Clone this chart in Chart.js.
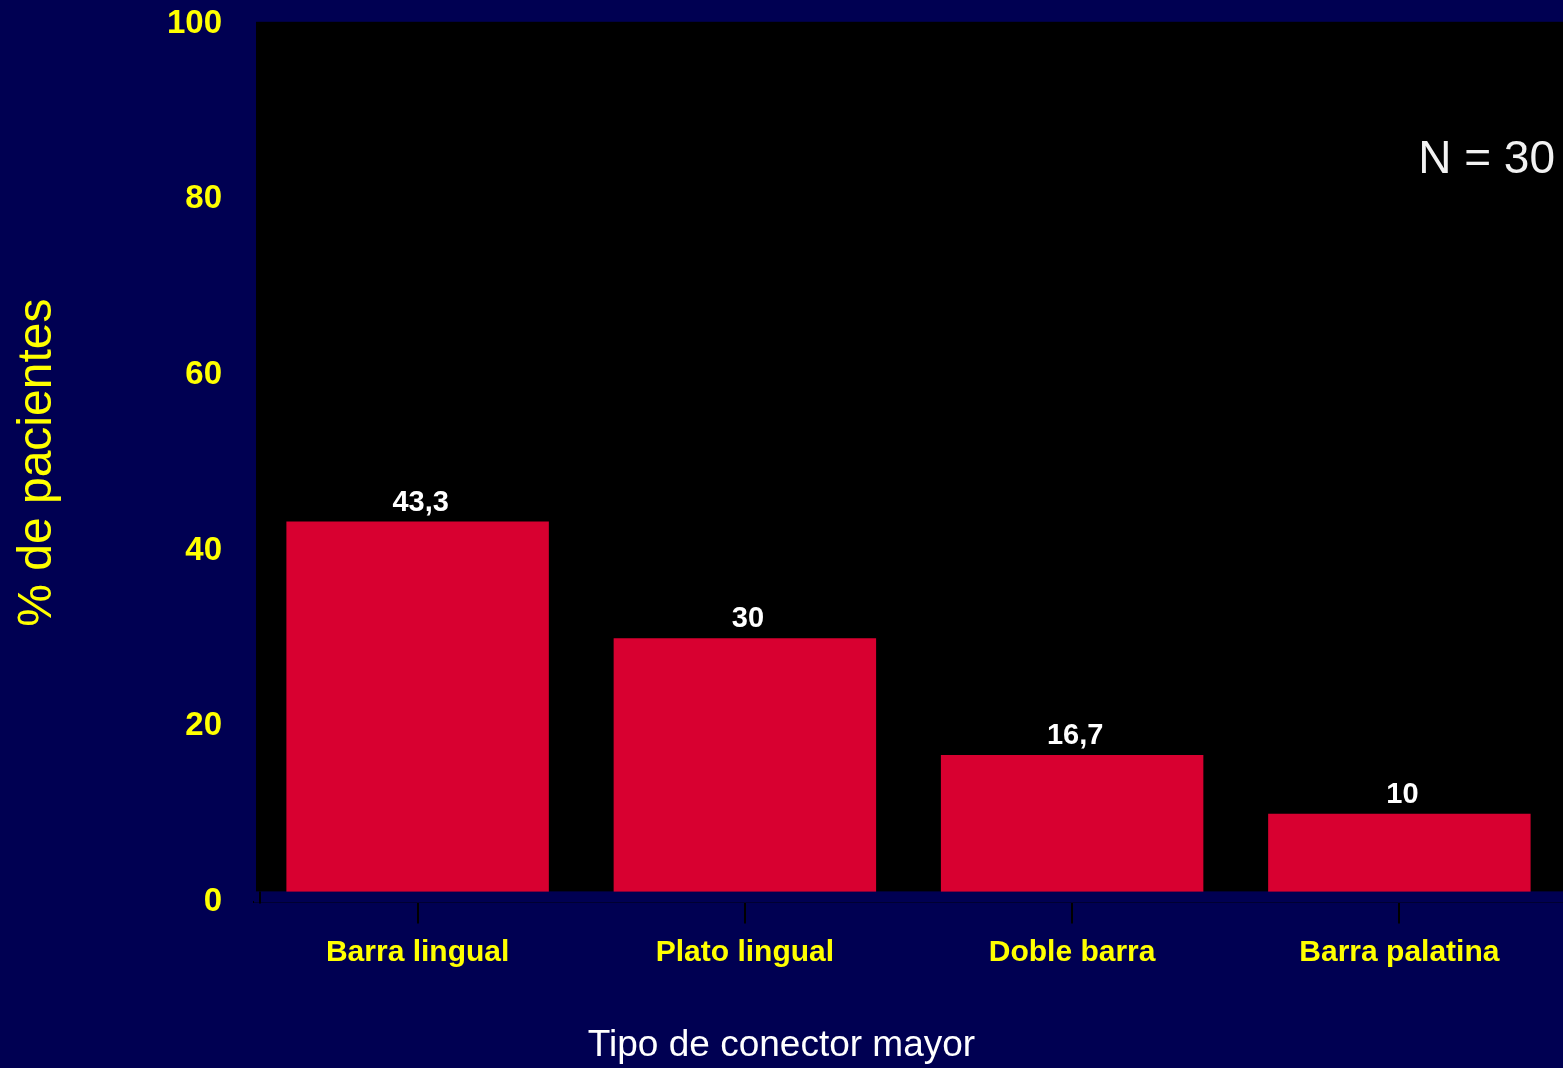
<!DOCTYPE html>
<html>
<head>
<meta charset="utf-8">
<script src="https://cdn.jsdelivr.net/npm/chart.js@4.4.1/dist/chart.umd.min.js"></script>
<style>
  html, body { margin: 0; padding: 0; background: #000052; }
  #wrap { width: 1563px; height: 1068px; }
</style>
</head>
<body>
<div id="wrap"><canvas id="chart"></canvas></div>
<script>
const navy = '#000052';
const red = '#D80030';
const yellow = '#FFFF00';

const categories = ['Barra lingual', 'Plato lingual', 'Doble barra', 'Barra palatina'];
const percentages = [43.3, 30, 16.7, 10];
const yTickValues = [0, 20, 40, 60, 80, 100];
const sampleNote = 'N = 30';

// fondo azul, área de trazado negra y franja azul bajo las barras
const frame = {
  id: 'frame',
  beforeDraw(chart) {
    const { ctx, chartArea: a } = chart;
    ctx.save();
    ctx.fillStyle = navy;
    ctx.fillRect(0, 0, chart.width, chart.height);
    ctx.fillStyle = '#000000';
    ctx.fillRect(a.left + 2, a.top - 2, a.right - a.left, a.bottom - 10 - (a.top - 2));
    ctx.restore();
  },
  afterDatasetsDraw(chart) {
    const { ctx, chartArea: a } = chart;
    ctx.save();
    ctx.fillStyle = navy;
    ctx.fillRect(a.left, a.bottom - 10, a.right - a.left, 11);
    ctx.strokeStyle = '#000000';
    ctx.lineWidth = 2;
    ctx.beginPath();
    ctx.moveTo(a.left + 6, a.bottom - 10);
    ctx.lineTo(a.left + 6, a.bottom + 2);
    ctx.stroke();
    // valores sobre las barras
    ctx.fillStyle = '#FFFFFF';
    ctx.font = 'bold 29px "Liberation Sans", Arial, sans-serif';
    ctx.textAlign = 'center';
    ctx.textBaseline = 'alphabetic';
    chart.getDatasetMeta(0).data.forEach((bar, i) => {
      ctx.fillText(String(percentages[i]).replace('.', ','), bar.x + 3, bar.y - 11);
    });
    // nota N
    ctx.fillStyle = '#F2F2F2';
    ctx.font = '46px "Liberation Sans", Arial, sans-serif';
    ctx.textAlign = 'right';
    ctx.fillText(sampleNote, a.right - 8, a.top + 149);
    ctx.restore();
  }
};

new Chart(document.getElementById('chart'), {
  type: 'bar',
  data: {
    labels: categories,
    datasets: [{
      data: percentages,
      backgroundColor: red,
      borderWidth: 0,
      barPercentage: 0.802,
      categoryPercentage: 1
    }]
  },
  options: {
    responsive: true,
    maintainAspectRatio: false,
    animation: false,
    layout: { padding: { top: 0, right: 0, left: 0, bottom: 0 } },
    plugins: {
      legend: { display: false },
      tooltip: { enabled: false },
      title: {
        display: true,
        position: 'bottom',
        text: 'Tipo de conector mayor',
        color: '#FFFFFF',
        font: { family: '"Liberation Sans", Arial, sans-serif', size: 37, weight: 'normal' },
        padding: { top: 14, bottom: 0 }
      }
    },
    scales: {
      x: {
        z: 1,
        afterFit: (s) => { s.height = 108; },
        grid: { display: true, offset: false, drawOnChartArea: false, drawTicks: true, tickLength: 22, color: '#000000', lineWidth: 2 },
        border: { display: true, color: '#000000', width: 2 },
        ticks: {
          color: yellow,
          padding: 11,
          font: { family: '"Liberation Sans", Arial, sans-serif', size: 30, weight: 'bold' }
        }
      },
      y: {
        min: 0,
        max: 100,
        afterFit: (s) => { s.width = 254; },
        afterBuildTicks: (s) => { s.ticks = yTickValues.map(v => ({ value: v })); },
        grid: { display: true, drawOnChartArea: false, drawTicks: true, tickLength: 28, color: 'rgba(0,0,0,0)' },
        border: { display: false },
        ticks: {
          color: yellow,
          padding: 4,
          font: { family: '"Liberation Sans", Arial, sans-serif', size: 33, weight: 'bold' }
        },
        title: {
          display: true,
          text: '% de pacientes',
          color: yellow,
          padding: { top: 9, bottom: 0 },
          font: { family: '"Liberation Sans", Arial, sans-serif', size: 48, weight: 'normal' }
        }
      }
    }
  },
  plugins: [frame]
});
</script>
</body>
</html>
